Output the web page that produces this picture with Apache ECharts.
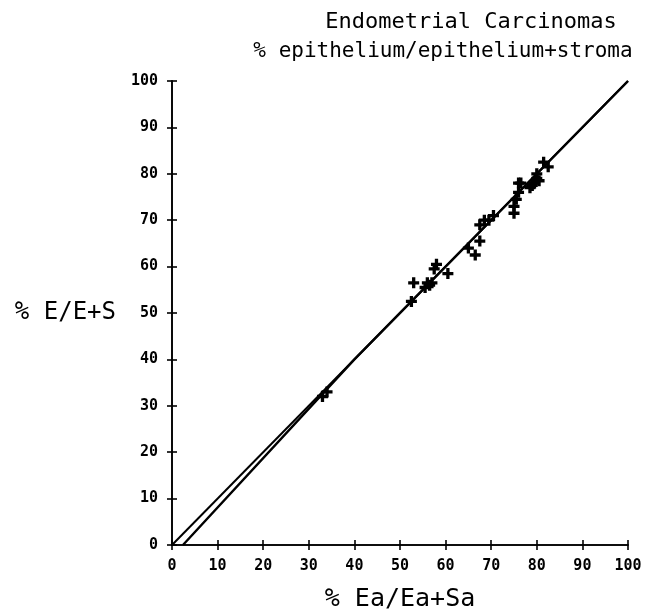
<!DOCTYPE html>
<html>
<head>
<meta charset="utf-8">
<script src="https://cdn.jsdelivr.net/npm/echarts@6/dist/echarts.min.js"></script>
<style>
  html, body { margin: 0; padding: 0; background: #fff; }
  #chart { width: 655px; height: 611px; }
</style>
</head>
<body>
<div id="chart"></div>
<script>
// % Ea/Ea+Sa (x) vs % E/E+S (y)
const pointsX = [33, 34, 52.5, 53, 55.5, 56, 56.5, 57, 57.5, 58, 60.5, 65, 66.5, 67.5, 67.5, 68.5, 69.5, 70.5,
  75, 75, 75.5, 76, 76, 76.5, 78.5, 79, 79.5, 80, 80, 80.5, 81.5, 82.5]
const pointsY = [32, 33, 52.5, 56.5, 55.5, 56.5, 56, 56.5, 59.5, 60.5, 58.5, 64, 62.5, 65.5, 69, 70, 70, 71,
  71.5, 73, 74.5, 76, 78, 78, 77, 77.5, 78, 80, 79, 78.5, 82.5, 81.5]

// the two fitted lines (second one joins the first around 40)
const lineA = [[0, 0], [100, 100]]
const lineB = [[2.4, 0], [40, 40], [100, 100]]

const tickValues = [0, 10, 20, 30, 40, 50, 60, 70, 80, 90, 100]

const FONT = 'DejaVu Sans Mono'
const plus = 'path://M3.5,0H6.5V3.5H10V6.5H6.5V10H3.5V6.5H0V3.5H3.5Z'

const chart = echarts.init(document.getElementById('chart'))

const axisBase = {
  type: 'value',
  min: 0,
  max: 100,
  interval: 10,
  splitLine: { show: false },
  axisLine: { show: true, lineStyle: { color: '#000', width: 1.6 } },
}

const option = {
  backgroundColor: '#fff',
  animation: false,
  title: [
    {
      text: 'Endometrial Carcinomas',
      left: 466, top: 6,
      textAlign: 'center',
      textStyle: { fontFamily: FONT, fontSize: 22, fontWeight: 'normal', color: '#000' }
    },
    {
      text: '% epithelium/epithelium+stroma',
      left: 438, top: 36,
      textAlign: 'center',
      textStyle: { fontFamily: FONT, fontSize: 21, fontWeight: 'normal', color: '#000' }
    }
  ],
  grid: { left: 172, right: 27, top: 81, bottom: 66, outerBoundsMode: 'none', containLabel: false },
  xAxis: [
    Object.assign({}, axisBase, {
      name: '% Ea/Ea+Sa',
      nameLocation: 'middle',
      nameGap: 42,
      nameTextStyle: { fontFamily: FONT, fontSize: 25, color: '#000' },
      axisTick: { show: true, length: 5, lineStyle: { color: '#000', width: 1.6 } },
      axisLabel: {
        fontFamily: FONT, fontSize: 15, fontWeight: 'bold', color: '#000', margin: 14,
        formatter: v => tickValues.includes(v) ? String(v) : ''
      }
    }),
    Object.assign({}, axisBase, {
      position: 'bottom',
      axisTick: { show: true, inside: true, length: 5, lineStyle: { color: '#000', width: 1.6 } },
      axisLabel: { show: false }
    })
  ],
  yAxis: [
    Object.assign({}, axisBase, {
      name: '% E/E+S',
      nameLocation: 'middle',
      nameGap: 56,
      nameRotate: 0,
      nameTextStyle: { fontFamily: FONT, fontSize: 24, color: '#000', align: 'right' },
      axisTick: { show: true, length: 5, lineStyle: { color: '#000', width: 1.6 } },
      axisLabel: {
        fontFamily: FONT, fontSize: 15, fontWeight: 'bold', color: '#000', margin: 14,
        formatter: v => tickValues.includes(v) ? String(v) : ''
      }
    }),
    Object.assign({}, axisBase, {
      position: 'left',
      axisTick: { show: true, inside: true, length: 5, lineStyle: { color: '#000', width: 1.6 } },
      axisLabel: { show: false }
    })
  ],
  series: [
    {
      type: 'line',
      data: lineA,
      symbol: 'none',
      lineStyle: { color: '#000', width: 2 },
      z: 3
    },
    {
      type: 'line',
      data: lineB,
      symbol: 'none',
      lineStyle: { color: '#000', width: 2.4 },
      z: 3
    },
    {
      type: 'scatter',
      data: pointsX.map((x, i) => [x, pointsY[i]]),
      symbol: plus,
      symbolSize: 11,
      itemStyle: { color: '#000', opacity: 1 },
      z: 4
    }
  ]
}

chart.setOption(option)
</script>
</body>
</html>
